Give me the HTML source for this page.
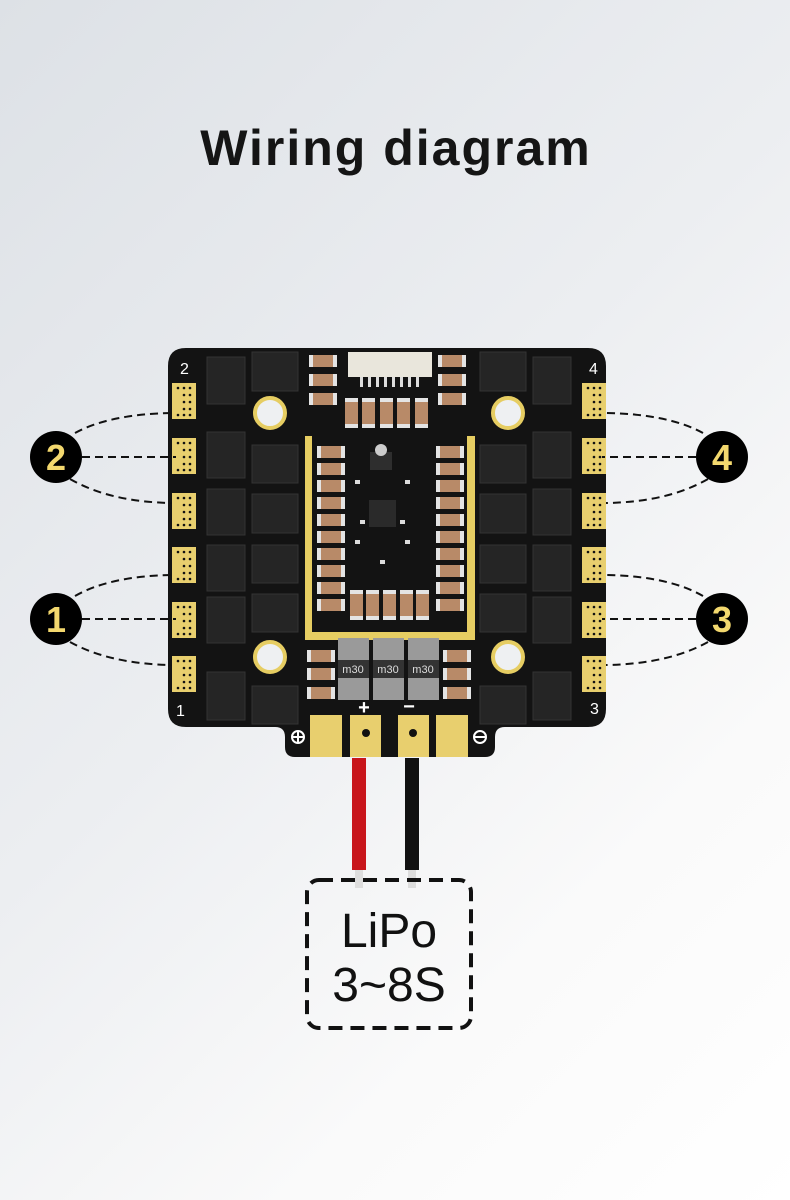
<!DOCTYPE html>
<html><head><meta charset="utf-8"><style>
html,body{margin:0;padding:0;overflow:hidden}
body{width:790px;height:1200px;background:linear-gradient(135deg,#dde1e6 0%,#eceef1 45%,#fafafa 75%,#ffffff 100%);font-family:"Liberation Sans",sans-serif}
svg{display:block}
</style></head><body>
<svg width="790" height="1200" viewBox="0 0 790 1200" xmlns="http://www.w3.org/2000/svg">
<defs>
<g id="pad"><rect x="0" y="0" width="24" height="36" fill="#e8cf6e"/><g fill="#111"><circle cx="6" cy="5" r="1.3"/><circle cx="12" cy="5" r="1.3"/><circle cx="18" cy="5" r="1.3"/><circle cx="12" cy="12" r="1.3"/><circle cx="18" cy="12" r="1.3"/><circle cx="12" cy="19" r="1.3"/><circle cx="18" cy="19" r="1.3"/><circle cx="12" cy="26" r="1.3"/><circle cx="18" cy="26" r="1.3"/><circle cx="6" cy="32" r="1.3"/><circle cx="12" cy="32" r="1.3"/><circle cx="18" cy="32" r="1.3"/></g></g>
<g id="capH"><rect x="0" y="0" width="28" height="12" fill="#e4e4e4"/><rect x="4" y="0" width="20" height="12" fill="#b88a68"/></g>
<g id="capV"><rect x="0" y="0" width="13" height="30" fill="#e4e4e4"/><rect x="0" y="4" width="13" height="22" fill="#b88a68"/></g>
</defs>
<text x="396" y="165" text-anchor="middle" font-size="50" font-weight="bold" fill="#151515" letter-spacing="2">Wiring diagram</text>

<path d="M186 348 H588 Q606 348 606 366 V709 Q606 727 588 727 H505 Q495 727 495 737 V747 Q495 757 485 757 H295 Q285 757 285 747 V737 Q285 727 275 727 H186 Q168 727 168 709 V366 Q168 348 186 348 Z" fill="#131313"/>
<g>
<use href="#pad" x="172" y="383"/><use href="#pad" x="172" y="438"/><use href="#pad" x="172" y="493"/>
<use href="#pad" x="172" y="547"/><use href="#pad" x="172" y="602"/><use href="#pad" x="172" y="656"/>
<use href="#pad" x="582" y="383"/><use href="#pad" x="582" y="438"/><use href="#pad" x="582" y="493"/>
<use href="#pad" x="582" y="547"/><use href="#pad" x="582" y="602"/><use href="#pad" x="582" y="656"/>
</g>
<g fill="#fff" font-size="16">
<text x="180" y="374">2</text><text x="589" y="374">4</text><text x="176" y="716">1</text><text x="590" y="714">3</text>
</g>
<g fill="#252525" stroke="#333" stroke-width="1">
<rect x="207" y="357" width="38" height="47"/><rect x="207" y="432" width="38" height="46"/><rect x="207" y="489" width="38" height="46"/><rect x="207" y="545" width="38" height="46"/><rect x="207" y="597" width="38" height="46"/><rect x="207" y="672" width="38" height="48"/>
<rect x="252" y="352" width="46" height="39"/><rect x="252" y="445" width="46" height="38"/><rect x="252" y="494" width="46" height="39"/><rect x="252" y="545" width="46" height="38"/><rect x="252" y="594" width="46" height="38"/><rect x="252" y="686" width="46" height="38"/>
<rect x="533" y="357" width="38" height="47"/><rect x="533" y="432" width="38" height="46"/><rect x="533" y="489" width="38" height="46"/><rect x="533" y="545" width="38" height="46"/><rect x="533" y="597" width="38" height="46"/><rect x="533" y="672" width="38" height="48"/>
<rect x="480" y="352" width="46" height="39"/><rect x="480" y="445" width="46" height="38"/><rect x="480" y="494" width="46" height="39"/><rect x="480" y="545" width="46" height="38"/><rect x="480" y="594" width="46" height="38"/><rect x="480" y="686" width="46" height="38"/>
</g>
<g fill="#eef0f2" stroke="#e6cd62" stroke-width="4">
<circle cx="270" cy="413" r="15"/><circle cx="508" cy="413" r="15"/><circle cx="270" cy="657" r="15"/><circle cx="508" cy="657" r="15"/>
</g>
<rect x="348" y="352" width="84" height="25" fill="#e9e6dc"/>
<g fill="#ddd"><rect x="360" y="377" width="3" height="10"/><rect x="368" y="377" width="3" height="10"/><rect x="376" y="377" width="3" height="10"/><rect x="384" y="377" width="3" height="10"/><rect x="392" y="377" width="3" height="10"/><rect x="400" y="377" width="3" height="10"/><rect x="408" y="377" width="3" height="10"/><rect x="416" y="377" width="3" height="10"/></g>
<use href="#capH" x="309" y="355"/><use href="#capH" x="309" y="374"/><use href="#capH" x="309" y="393"/>
<use href="#capH" x="438" y="355"/><use href="#capH" x="438" y="374"/><use href="#capH" x="438" y="393"/>
<use href="#capV" x="345" y="398"/><use href="#capV" x="362" y="398"/><use href="#capV" x="380" y="398"/><use href="#capV" x="397" y="398"/><use href="#capV" x="415" y="398"/>
<g fill="#e6cd62"><rect x="305" y="436" width="7" height="204"/><rect x="467" y="436" width="8" height="204"/><rect x="305" y="632" width="170" height="8"/></g>
<g>
<use href="#capH" x="317" y="446"/><use href="#capH" x="317" y="463"/><use href="#capH" x="317" y="480"/><use href="#capH" x="317" y="497"/><use href="#capH" x="317" y="514"/><use href="#capH" x="317" y="531"/><use href="#capH" x="317" y="548"/><use href="#capH" x="317" y="565"/><use href="#capH" x="317" y="582"/><use href="#capH" x="317" y="599"/>
<use href="#capH" x="436" y="446"/><use href="#capH" x="436" y="463"/><use href="#capH" x="436" y="480"/><use href="#capH" x="436" y="497"/><use href="#capH" x="436" y="514"/><use href="#capH" x="436" y="531"/><use href="#capH" x="436" y="548"/><use href="#capH" x="436" y="565"/><use href="#capH" x="436" y="582"/><use href="#capH" x="436" y="599"/>
<use href="#capV" x="350" y="590"/><use href="#capV" x="366" y="590"/><use href="#capV" x="383" y="590"/><use href="#capV" x="400" y="590"/><use href="#capV" x="416" y="590"/>
</g>
<rect x="370" y="452" width="22" height="18" fill="#2e2e2e"/><circle cx="381" cy="450" r="6" fill="#ccc"/>
<rect x="369" y="500" width="27" height="27" fill="#2a2a2a"/>
<g fill="#ddd"><rect x="355" y="480" width="5" height="4"/><rect x="405" y="480" width="5" height="4"/><rect x="355" y="540" width="5" height="4"/><rect x="405" y="540" width="5" height="4"/><rect x="380" y="560" width="5" height="4"/><rect x="360" y="520" width="5" height="4"/><rect x="400" y="520" width="5" height="4"/></g>
<g>
<rect x="338" y="638" width="31" height="62" fill="#9a9a9a"/><rect x="373" y="638" width="31" height="62" fill="#9a9a9a"/><rect x="408" y="638" width="31" height="62" fill="#9a9a9a"/>
<rect x="338" y="660" width="31" height="18" fill="#333"/><rect x="373" y="660" width="31" height="18" fill="#333"/><rect x="408" y="660" width="31" height="18" fill="#333"/>
<g fill="#ddd" font-size="11" text-anchor="middle"><text x="353" y="673">m30</text><text x="388" y="673">m30</text><text x="423" y="673">m30</text></g>
</g>
<use href="#capH" x="307" y="650"/><use href="#capH" x="307" y="668"/><use href="#capH" x="307" y="687"/>
<use href="#capH" x="443" y="650"/><use href="#capH" x="443" y="668"/><use href="#capH" x="443" y="687"/>
<g fill="#e8cf6e"><rect x="310" y="715" width="32" height="42"/><rect x="350" y="715" width="31" height="42"/><rect x="398" y="715" width="31" height="42"/><rect x="436" y="715" width="32" height="42"/></g>
<circle cx="366" cy="733" r="4" fill="#111"/><circle cx="413" cy="733" r="4" fill="#111"/>
<g fill="#fff" font-size="20" font-weight="bold" text-anchor="middle"><text x="364" y="714">+</text><text x="409" y="713">−</text></g>
<g fill="none" stroke="#fff" stroke-width="2"><circle cx="298" cy="737" r="6"/><path d="M292 737h12M298 731v12"/><circle cx="480" cy="737" r="6"/><path d="M474 737h12"/></g>
<rect x="352" y="758" width="14" height="112" fill="#c8151b"/><rect x="405" y="758" width="14" height="112" fill="#111"/>
<rect x="355" y="870" width="8" height="18" fill="#ddd"/><rect x="408" y="870" width="8" height="18" fill="#ddd"/>
<rect x="307" y="880" width="164" height="148" rx="12" fill="none" stroke="#111" stroke-width="4" stroke-dasharray="14 8"/>
<g font-size="48" fill="#111" text-anchor="middle"><text x="389" y="947">LiPo</text><text x="389" y="1001">3~8S</text></g>
<g fill="none" stroke="#111" stroke-width="2" stroke-dasharray="8 5">
<path d="M75 433 Q110 414 172 413"/><path d="M82 457 H176"/><path d="M70 479 Q110 502 172 503"/>
<path d="M75 596 Q110 576 172 575"/><path d="M82 619 H176"/><path d="M70 642 Q110 664 172 665"/>
<path d="M703 433 Q668 414 606 413"/><path d="M696 457 H602"/><path d="M708 479 Q668 502 606 503"/>
<path d="M703 596 Q668 576 606 575"/><path d="M696 619 H602"/><path d="M708 642 Q668 664 606 665"/>
</g>
<g fill="#000"><circle cx="56" cy="457" r="26"/><circle cx="56" cy="619" r="26"/><circle cx="722" cy="457" r="26"/><circle cx="722" cy="619" r="26"/></g>
<g fill="#f3d86e" font-size="36" font-weight="bold" text-anchor="middle"><text x="56" y="470">2</text><text x="56" y="632">1</text><text x="722" y="470">4</text><text x="722" y="632">3</text></g>
</svg>
</body></html>
